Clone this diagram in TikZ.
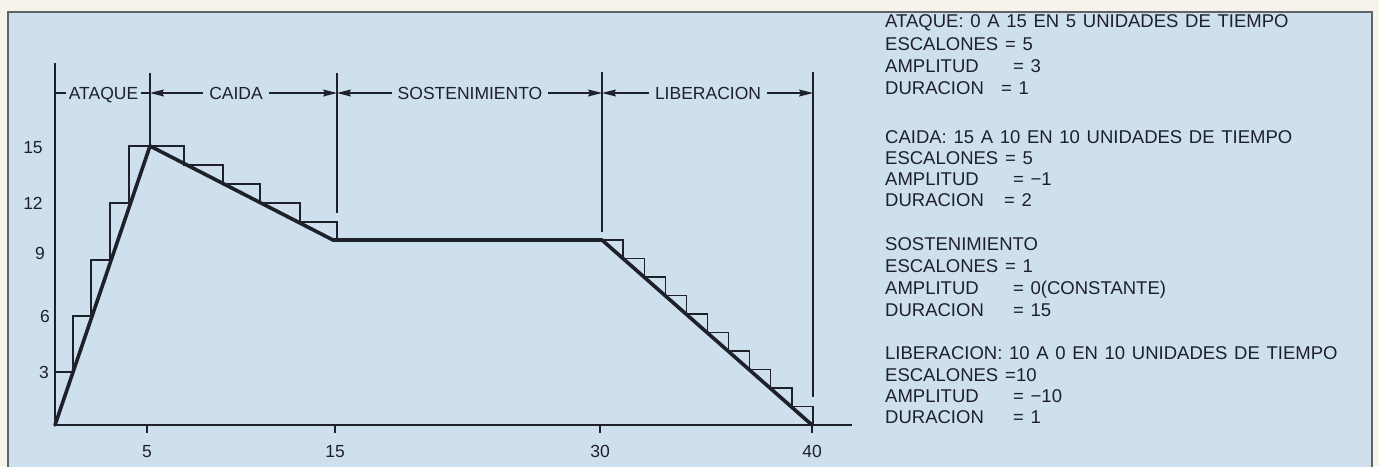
\documentclass[tikz,border=0pt]{standalone}
\usepackage{fontspec}
\setmainfont{Liberation Sans}[WordSpace=1.3]
\usetikzlibrary{arrows.meta}
\definecolor{paper}{RGB}{246,243,234}
\definecolor{bgblue}{RGB}{206,223,237}
\definecolor{ink}{RGB}{30,32,42}
\newcommand\kvline[3]{\makebox[#1][l]{#2}#3}
\tikzset{
  thinline/.style={draw=ink, line width=1.3pt},
  envline/.style={draw=ink, line width=3.6pt, line join=round, line cap=round},
  axisline/.style={draw=ink, line width=2pt},
  framel/.style={draw=ink!70, line width=1.5pt},
  dimarrow/.style={draw=ink, line width=1.3pt, -{Stealth[length=14pt,width=7pt,inset=2pt]}},
  lbl/.style={font=\fontsize{17.5}{20}\selectfont, text=ink, inner sep=0pt, text height=12.5pt, text depth=0pt},
  dimlbl/.style={lbl, inner xsep=6pt},
  info/.style={font=\fontsize{18.5}{22}\selectfont, text=ink, inner sep=0pt, text height=13pt, text depth=0pt, anchor=west},
}
\begin{document}
\begin{tikzpicture}[x=1pt,y=-1pt]
\useasboundingbox (0,0) rectangle (1379,466);
% paper and panel
\fill[paper] (0,0) rectangle (1379,466);
\fill[bgblue] (8,12) rectangle (1372,470);
\draw[framel] (8,470) -- (8,12) -- (1372,12) -- (1372,470);

% key coordinates
\coordinate (O) at (55,425);
\coordinate (P) at (150,146);
\coordinate (D) at (333,240);
\coordinate (S) at (602,240);
\coordinate (R) at (812,425);
\coordinate (ytop) at (55,63);
\coordinate (xend) at (852,425);

% axes
\draw[axisline] (ytop) -- (O) -- (xend);
\foreach \nm/\xx/\tx in {t5/147/5, t15/335/15, t30/600/30, t40/812/40}{
  \draw[axisline] (\xx,425) -- (\xx,433);
  \node[lbl] (\nm) at (\xx,451) {\tx};
}
\node[lbl] (y15) at (33,147) {15};
\node[lbl] (y12) at (33,203) {12};
\node[lbl] (y9)  at (40,253) {9};
\node[lbl] (y6)  at (45,316) {6};
\node[lbl] (y3)  at (44,372) {3};

% staircase attack + decay
\draw[thinline] (O) -- (55,372) -- (73,372) -- (73,316) -- (91,316) -- (91,260)
  -- (110,260) -- (110,203) -- (129,203) -- (129,146) -- (184,146) -- (184,165)
  -- (223,165) -- (223,184) -- (260,184) -- (260,203) -- (300,203) -- (300,222)
  -- (337,222) -- (337,240);
% staircase release
\foreach \k in {0,...,9}{
  \pgfmathsetmacro\xa{602+21.1*\k}
  \pgfmathsetmacro\xb{602+21.1*(\k+1)}
  \pgfmathsetmacro\ya{240+18.5*\k}
  \pgfmathsetmacro\yb{240+18.5*(\k+1)}
  \draw[thinline] (\xa,\ya) -- (\xb,\ya) -- (\xb,\yb);
}
% envelope
\draw[envline] (O) -- (P) -- (D) -- (S) -- (R);

% extension lines
\coordinate (e5a) at (150,73);   \coordinate (e5b) at (150,146);
\coordinate (e15a) at (337,73);  \coordinate (e15b) at (337,213);
\coordinate (e30a) at (602,72);  \coordinate (e30b) at (602,232);
\coordinate (e40a) at (813,72);  \coordinate (e40b) at (813,397);
\draw[thinline] (e5a) -- (e5b);
\draw[thinline] (e15a) -- (e15b);
\draw[thinline] (e30a) -- (e30b);
\draw[thinline] (e40a) -- (e40b);

% dimension row
\coordinate (d0) at (55,93);
\coordinate (d5) at (150,93);
\coordinate (d15) at (337,93);
\coordinate (d30) at (602,93);
\coordinate (d40) at (813,93);
\node[dimlbl,inner xsep=3pt] (ataque) at (103.5,93) {ATAQUE};
\node[dimlbl] (caida) at (236,93) {CAIDA};
\node[dimlbl] (sost) at (470,93) {SOSTENIMIENTO};
\node[dimlbl] (lib) at (708,93) {LIBERACION};
\draw[thinline] (d0) -- (ataque.west);
\draw[thinline] (ataque.east) -- (d5);
\draw[dimarrow] (caida.west) -- (d5);
\draw[dimarrow] (caida.east) -- (d15);
\draw[dimarrow] (sost.west) -- (d15);
\draw[dimarrow] (sost.east) -- (d30);
\draw[dimarrow] (lib.west) -- (d30);
\draw[dimarrow] (lib.east) -- (d40);

% info text
\node[info] (i1)  at (885,21)  {ATAQUE: 0 A 15 EN 5 UNIDADES DE TIEMPO};
\node[info] (i2)  at (885,44)  {\kvline{120pt}{ESCALONES}{= 5}};
\node[info] (i3)  at (885,66)  {\kvline{128pt}{AMPLITUD}{= 3}};
\node[info] (i4)  at (885,88)  {\kvline{116pt}{DURACION}{= 1}};
\node[info] (i5)  at (885,137) {CAIDA: 15 A 10 EN 10 UNIDADES DE TIEMPO};
\node[info] (i6)  at (885,158) {\kvline{120pt}{ESCALONES}{= 5}};
\node[info] (i7)  at (885,179) {\kvline{128pt}{AMPLITUD}{= −1}};
\node[info] (i8)  at (885,200) {\kvline{119pt}{DURACION}{= 2}};
\node[info] (i9)  at (885,244) {SOSTENIMIENTO};
\node[info] (i10) at (885,266) {\kvline{120pt}{ESCALONES}{= 1}};
\node[info] (i11) at (885,288) {\kvline{128pt}{AMPLITUD}{= 0(CONSTANTE)}};
\node[info] (i12) at (885,310) {\kvline{128pt}{DURACION}{= 15}};
\node[info] (i13) at (885,353) {LIBERACION: 10 A 0 EN 10 UNIDADES DE TIEMPO};
\node[info] (i14) at (885,375) {\kvline{120pt}{ESCALONES}{=10}};
\node[info] (i15) at (885,396) {\kvline{128pt}{AMPLITUD}{= −10}};
\node[info] (i16) at (885,417) {\kvline{128pt}{DURACION}{= 1}};
\end{tikzpicture}
\end{document}
